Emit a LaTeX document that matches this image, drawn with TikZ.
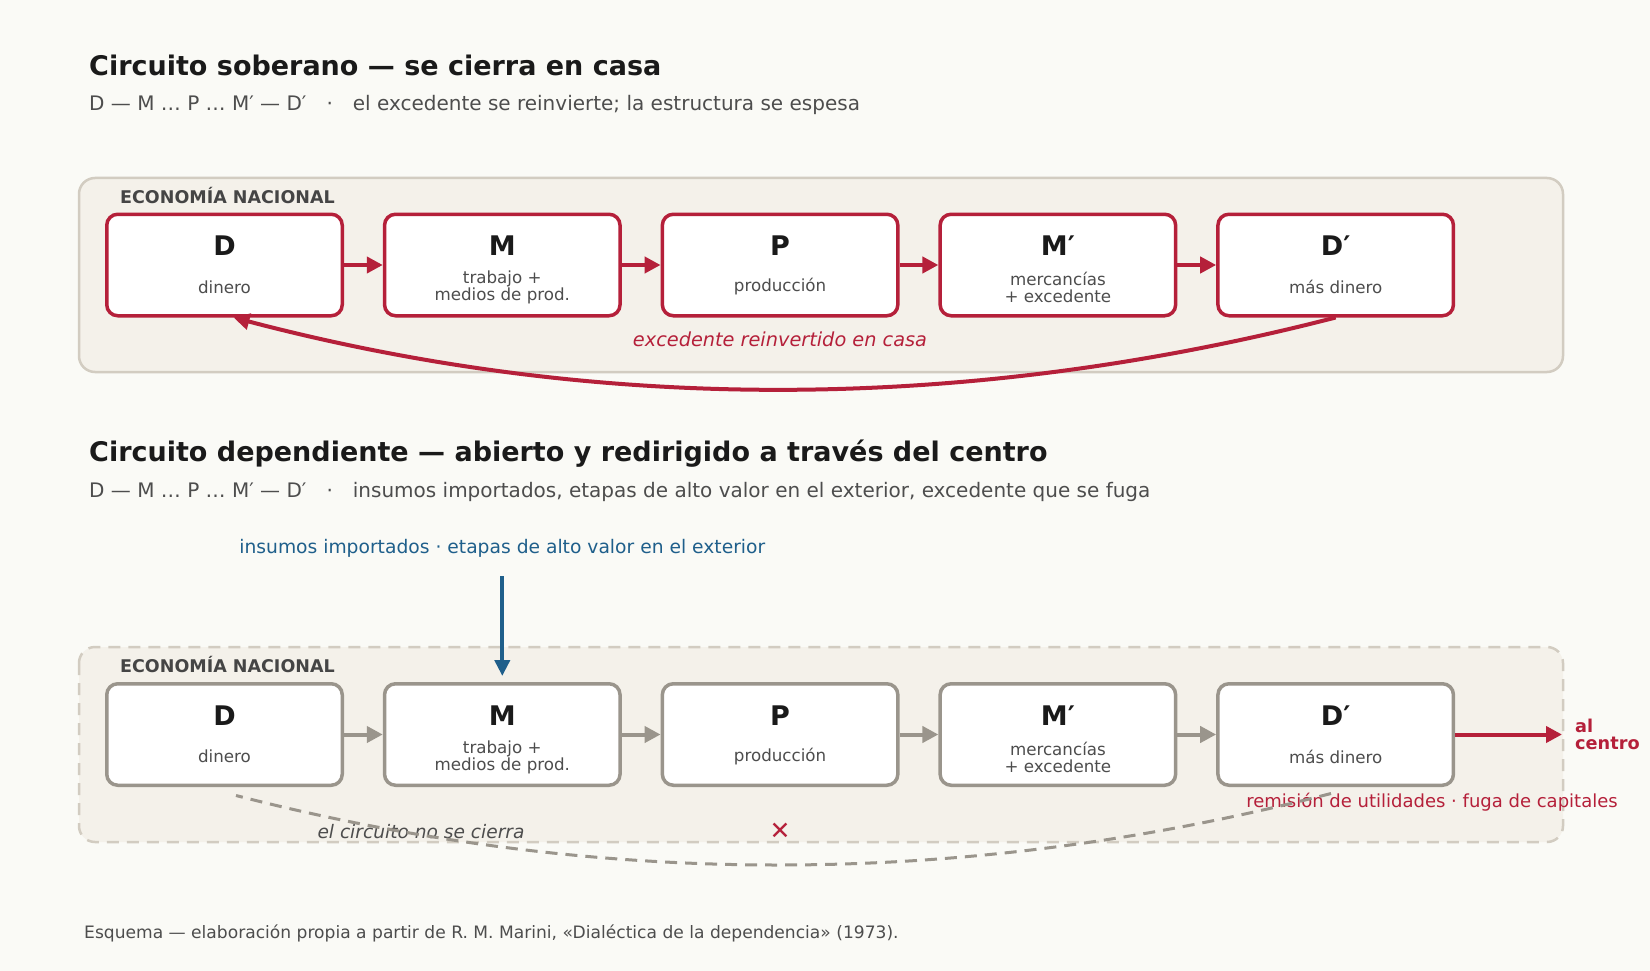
\documentclass[tikz,border=0pt]{standalone}
\usepackage{fontspec}
\setmainfont{DejaVu Sans}
\usetikzlibrary{arrows.meta, positioning, calc}

\definecolor{paper}{HTML}{FAFAF6}
\definecolor{zonefill}{HTML}{F4F1EA}
\definecolor{zoneline}{HTML}{D2CCC1}
\definecolor{circred}{HTML}{B5203A}
\definecolor{circgrey}{HTML}{9A958C}
\definecolor{importblue}{HTML}{1F5F8B}
\definecolor{inkdark}{HTML}{1A1A1A}
\definecolor{inksoft}{HTML}{4D4D4D}

\begin{document}
\begin{tikzpicture}[
    x=1pt, y=-1pt,
    title/.style={anchor=west, inner sep=0, text=inkdark, font=\fontsize{27}{31}\selectfont\bfseries},
    subtitle/.style={anchor=west, inner sep=0, text=inksoft, font=\fontsize{20}{24}\selectfont},
    zone/.style={rounded corners=16pt, fill=zonefill, draw=zoneline, line width=2.5pt},
    zonelabel/.style={anchor=west, inner sep=0, text=inksoft!90!black, font=\fontsize{17.5}{20}\selectfont\bfseries},
    stage/.style={draw=circred, fill=white, rounded corners=11pt, line width=3.5pt, minimum width=235.5pt, minimum height=101.5pt},
    deadstage/.style={stage, draw=circgrey},
    letter/.style={inner sep=0, text=inkdark, font=\fontsize{27}{31}\selectfont\bfseries},
    gloss/.style={inner sep=0, align=center, text=inksoft, font=\fontsize{16.7}{17}\selectfont},
    note/.style={inner sep=0, font=\fontsize{18.7}{22}\selectfont},
    flow/.style={draw=circred, line width=4pt, -{Triangle[length=16pt, width=16pt]}},
    deadflow/.style={flow, draw=circgrey},
    importflow/.style={draw=importblue, line width=4pt, -{Triangle[length=16pt, width=15pt]}},
    leak/.style={draw=circgrey, line width=3pt, dash pattern=on 12pt off 8pt}
]
    \useasboundingbox (0,0) rectangle (1650,971);
    \fill[paper] (0,0) rectangle (1650,971);

    % ================= CIRCUITO SOBERANO =================
    \node[title] (t_sov) at (89,65) {Circuito soberano — se cierra en casa};
    \node[subtitle] (s_sov) at (89,105) {D — M … P … M′ — D′\hspace{20pt}·\hspace{20pt}el excedente se reinvierte; la estructura se espesa};

    \draw[zone] (79,178) rectangle (1563,372);
    \node[zonelabel] (z_sov) at (120,196) {ECONOMÍA NACIONAL};

    % stages
    \node[stage] (D1) at (224.5,265) {};
    \node[stage] (M1) at (502.3,265) {};
    \node[stage] (P1) at (780.1,265) {};
    \node[stage] (Mp1) at (1057.9,265) {};
    \node[stage] (Dp1) at (1335.7,265) {};

    \node[letter] (D1l) at (224.5,246) {D};
    \node[letter] (M1l) at (502.3,246) {M};
    \node[letter] (P1l) at (780.1,246) {P};
    \node[letter] (Mp1l) at (1057.9,246) {M′};
    \node[letter] (Dp1l) at (1335.7,246) {D′};

    \node[gloss] (D1g) at (224.5,287) {dinero};
    \node[gloss] (M1g) at (502.3,287.5) {trabajo +\\medios de prod.};
    \node[gloss] (P1g) at (780.1,287) {producción};
    \node[gloss] (Mp1g) at (1057.9,287.5) {mercancías\\+ excedente};
    \node[gloss] (Dp1g) at (1335.7,287) {más dinero};

    \draw[flow] (D1) -- (M1);
    \draw[flow] (M1) -- (P1);
    \draw[flow] (P1) -- (Mp1);
    \draw[flow] (Mp1) -- (Dp1);

    % closing loop
    \draw[flow] (Dp1.south) .. controls (963.7,413.3) and (598,413.3) .. ([xshift=9pt]D1.south);
    \node[note, text=circred, font=\fontsize{19.3}{22}\selectfont\itshape] (n_sov) at (780,339) {excedente reinvertido en casa};

    % ================= CIRCUITO DEPENDIENTE =================
    \node[title] (t_dep) at (89,453.5) {Circuito dependiente — abierto y redirigido a través del centro};
    \node[subtitle] (s_dep) at (89,492) {D — M … P … M′ — D′\hspace{20pt}·\hspace{20pt}insumos importados, etapas de alto valor en el exterior, excedente que se fuga};

    \node[note, text=importblue] (imp) at (502.3,548) {insumos importados · etapas de alto valor en el exterior};
    \coordinate (impfoot) at (502.3,576);

    \draw[zone, draw=zoneline, dash pattern=on 12pt off 8pt] (79,647) rectangle (1563,842);
    \node[zonelabel] (z_dep) at (120,665) {ECONOMÍA NACIONAL};

    % stages
    \node[deadstage] (D2) at (224.5,734.5) {};
    \node[deadstage] (M2) at (502.3,734.5) {};
    \node[deadstage] (P2) at (780.1,734.5) {};
    \node[deadstage] (Mp2) at (1057.9,734.5) {};
    \node[deadstage] (Dp2) at (1335.7,734.5) {};

    \node[letter] (D2l) at (224.5,715.5) {D};
    \node[letter] (M2l) at (502.3,715.5) {M};
    \node[letter] (P2l) at (780.1,715.5) {P};
    \node[letter] (Mp2l) at (1057.9,715.5) {M′};
    \node[letter] (Dp2l) at (1335.7,715.5) {D′};

    \node[gloss] (D2g) at (224.5,756.5) {dinero};
    \node[gloss] (M2g) at (502.3,757) {trabajo +\\medios de prod.};
    \node[gloss] (P2g) at (780.1,756.5) {producción};
    \node[gloss] (Mp2g) at (1057.9,757) {mercancías\\+ excedente};
    \node[gloss] (Dp2g) at (1335.7,756.5) {más dinero};

    \draw[deadflow] (D2) -- (M2);
    \draw[deadflow] (M2) -- (P2);
    \draw[deadflow] (P2) -- (Mp2);
    \draw[deadflow] (Mp2) -- (Dp2);

    \draw[importflow, shorten >=6pt] (impfoot) -- (M2.north);

    % leak to the centre
    \coordinate (centre) at (1562,734.5);
    \draw[flow] (Dp2) -- (centre);
    \node[anchor=west, inner sep=0, align=left, text=circred, font=\fontsize{17.7}{17.5}\selectfont\bfseries] (alc) at (1575,734.5) {al\\centro};
    \node[note, text=circred, font=\fontsize{18}{21}\selectfont] (remit) at (1432,802) {remisión de utilidades · fuga de capitales};

    % broken loop
    \coordinate (leakR) at (1331,793.5);
    \coordinate (leakL) at (236,795.5);
    \node[note, text=inksoft, font=\fontsize{18.6}{21}\selectfont\itshape] (open) at (421,832) {el circuito no se cierra};
    \draw[leak] (leakR) .. controls (963.7,888.2) and (598.7,888.8) .. (leakL);
    \node[note, text=circred, font=\fontsize{25}{27}\selectfont] (cross) at (780,831) {✕};

    % ================= FUENTE =================
    \node[anchor=west, inner sep=0, text=inksoft, font=\fontsize{17.1}{20}\selectfont] (src) at (84,933) {Esquema — elaboración propia a partir de R. M. Marini, «Dialéctica de la dependencia» (1973).};

\end{tikzpicture}
\end{document}
